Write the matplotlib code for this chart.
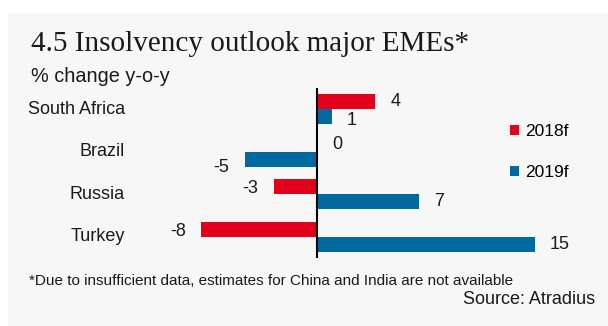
import matplotlib.pyplot as plt
from matplotlib.patches import Rectangle
from matplotlib.transforms import blended_transform_factory

# insolvency growth forecasts, % change y-o-y
countries = ["South Africa", "Brazil", "Russia", "Turkey"]
f2018 = [4, 0, -3, -8]
f2019 = [1, -5, 7, 15]
series_names = ["2018f", "2019f"]

red = "#e2001a"
blue = "#0069a0"
narrow = ["Liberation Sans Narrow", "Liberation Sans", "DejaVu Sans"]
ink = "#1a1a1a"

W, H = 608, 326
fig = plt.figure(figsize=(W / 100, H / 100), dpi=100)
fig.patch.set_facecolor("white")

# light grey card behind everything
fig.patches.append(Rectangle((8 / W, 0), 1, 1 - 13 / H, transform=fig.transFigure,
                             facecolor="#f7f7f7", edgecolor="none", zorder=-5))

# axes placed so that zero sits at x=317px and one unit is 14.5px
x0, x1 = -10, 17
ax = fig.add_axes([(317 + x0 * 14.5) / W, 1 - 258 / H, (x1 - x0) * 14.5 / W, 170 / H])
ax.set_facecolor("none")
ax.set_xlim(x0, x1)
ax.set_ylim(3.5, -0.5)
for s in ax.spines.values():
    s.set_visible(False)
ax.set_xticks([])
ax.set_yticks([])

ypos = list(range(len(countries)))
bh = 0.355
off = 0.178
b1 = ax.barh([y - off for y in ypos], f2018, height=bh, color=red, label=series_names[0], zorder=2)
b2 = ax.barh([y + off for y in ypos], f2019, height=bh, color=blue, label=series_names[1], zorder=2)
ax.axvline(0, color="black", lw=1.5, zorder=3)

# value labels next to the bar ends (dy = small downward shift in points)
def put_labels(vals, ys, dys):
    for v, y, dy in zip(vals, ys, dys):
        ax.annotate(f"{v}", (v, y), xytext=(11 if v >= 0 else -11, -dy),
                    textcoords="offset points", ha="left" if v >= 0 else "right",
                    va="center", fontsize=13, family=narrow, color=ink)

put_labels(f2018, [y - off for y in ypos], [0, 0, 1, 2])
put_labels(f2019, [y + off for y in ypos], [3, 6, 0, 0])

# category names, right aligned
name_tr = blended_transform_factory(fig.transFigure, ax.transData)
for name, y in zip(countries, ypos):
    ax.text(125 / W, y, name, transform=name_tr,
            ha="right", va="center", fontsize=13, family=narrow, color=ink)

ax.legend(handles=[b1, b2], loc="upper left", bbox_to_anchor=(510 / W, 1 - 124 / H),
          bbox_transform=fig.transFigure, frameon=False,
          prop={"family": narrow, "size": 12.5}, handlelength=0.5, handleheight=0.5,
          handletextpad=0.4, labelspacing=1.5, borderpad=0, borderaxespad=0)

fig.text(31 / W, 1 - 51 / H, "4.5 Insolvency outlook major EMEs*", family=["Liberation Serif", "DejaVu Serif"],
         fontsize=21, va="baseline", ha="left", color=ink)
fig.text(31 / W, 1 - 77 / H, "% change y-o-y", family=narrow, fontsize=14.3,
         va="center", ha="left", color=ink)
fig.text(29 / W, 1 - 281 / H,
         "*Due to insufficient data, estimates for China and India are not available",
         family=narrow, fontsize=11, va="center", ha="left", color=ink)
fig.text(595 / W, 1 - 300 / H, "Source: Atradius", family=narrow, fontsize=13,
         va="center", ha="right", color=ink)

fig.savefig("out.png", dpi=100)
